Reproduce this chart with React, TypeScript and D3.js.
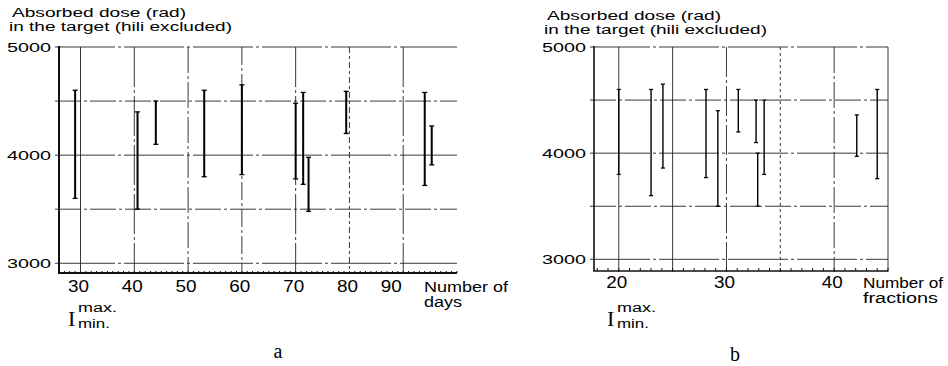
import React, { useEffect, useRef } from 'react';
import * as d3 from 'd3';

// Panel a: dose range versus overall treatment time (days)
const dayPos = [29, 40.6, 44, 53, 60, 70, 71.4, 72.4, 79.4, 94, 95.3];
const dayMax = [4600, 4400, 4500, 4600, 4650, 4480, 4580, 3980, 4590, 4580, 4270];
const dayMin = [3600, 3500, 4100, 3800, 3820, 3780, 3730, 3480, 4200, 3720, 3910];
const dayTicks = [30, 40, 50, 60, 70, 80, 90];

// Panel b: dose range versus number of fractions
const fracPos = [20, 23, 24.1, 28.1, 29.2, 31.1, 32.75, 32.9, 33.5, 42.1, 44];
const fracMax = [4600, 4600, 4650, 4600, 4400, 4600, 4500, 4000, 4500, 4360, 4600];
const fracMin = [3800, 3600, 3860, 3770, 3500, 4200, 4100, 3500, 3800, 3970, 3760];
const fracTicks = [20, 30, 40];
const fracGrid = [20, 25, 30, 35, 40, 45];

const doseTicks = [3000, 4000, 5000];
const doseGrid = [3000, 3500, 4000, 4500, 5000];
const yTitle = ['Absorbed dose (rad)', 'in the target (hili excluded)'];

const DASH = '26 3 3 3';
const FONT = '"Liberation Sans", Arial, sans-serif';
const SERIF = '"Liberation Serif", "Times New Roman", serif';

interface PanelCfg {
  x0: number; x1: number; y0: number; y1: number;
  xDomain: [number, number]; yDomain: [number, number];
  pos: number[]; max: number[]; min: number[];
  ticks: number[]; vGrid: number[]; vDash: (string | null)[];
  axisW: number; barW: number; cap: number; minorH: number;
  titleX: number; titleY: number;
  xLab: string[]; xLabX: number; xLabW: number[]; tickY: number;
  legendX: number; letter: string; letterX: number; letterY: number;
  lastDx: number;
}

const panels: PanelCfg[] = [
  {
    x0: 59, x1: 457, y0: 47, y1: 273,
    xDomain: [26, 100], yDomain: [2910, 5000],
    pos: dayPos, max: dayMax, min: dayMin,
    ticks: dayTicks, vGrid: dayTicks,
    vDash: [null, '40 3 3 3', DASH, '18 3 3 3', '40 3 3 3', '6 3 3 3', '40 3 3 3'],
    axisW: 2, barW: 2, cap: 5, minorH: 2,
    titleX: 12, titleY: 17,
    xLab: ['Number of', 'days'], xLabX: 424, xLabW: [84, 38], tickY: 292,
    legendX: 68, letter: 'a', letterX: 278, letterY: 358, lastDx: -10,
  },
  {
    x0: 594, x1: 888, y0: 47, y1: 271,
    xDomain: [17.7, 45], yDomain: [2890, 5000],
    pos: fracPos, max: fracMax, min: fracMin,
    ticks: fracTicks, vGrid: fracGrid,
    vDash: [null, null, '30 3 3 3', '3 3', DASH, null],
    axisW: 1.6, barW: 1.4, cap: 4, minorH: 3,
    titleX: 547, titleY: 20,
    xLab: ['Number of', 'fractions'], xLabX: 863, xLabW: [80, 75], tickY: 288,
    legendX: 607, letter: 'b', letterX: 735, letterY: 361, lastDx: 0,
  },
];

export default function App() {
  const svgRef = useRef<SVGSVGElement>(null);

  useEffect(() => {
    if (!svgRef.current) return;
    const svg = d3.select(svgRef.current);
    svg.selectAll('*').remove();

    svg.append('rect').attr('width', 948).attr('height', 366).attr('fill', '#fff');

    panels.forEach((p) => {
      const g = svg.append('g');
      const x = d3.scaleLinear().domain(p.xDomain).range([p.x0, p.x1]);
      const y = d3.scaleLinear().domain(p.yDomain).range([p.y1, p.y0]);

      // horizontal grid
      g.selectAll('.hgrid')
        .data(doseGrid)
        .enter()
        .append('line')
        .attr('x1', p.x0 - 4)
        .attr('x2', p.x1)
        .attr('y1', (d) => y(d))
        .attr('y2', (d) => y(d))
        .attr('stroke', '#222')
        .attr('stroke-width', 0.9)
        .attr('stroke-dasharray', (d, i) => (i % 2 === 0 ? '60 3 3 3' : DASH));

      // vertical grid
      g.selectAll('.vgrid')
        .data(p.vGrid)
        .enter()
        .append('line')
        .attr('x1', (d) => x(d))
        .attr('x2', (d) => x(d))
        .attr('y1', y(5000))
        .attr('y2', p.y1 + 1)
        .attr('stroke', '#222')
        .attr('stroke-width', 0.9)
        .attr('stroke-dasharray', (d, i) => p.vDash[i]);

      // minor ticks on x axis
      const minor = d3.range(Math.ceil(p.xDomain[0]), Math.floor(p.xDomain[1]) + 1);
      g.selectAll('.minor')
        .data(minor)
        .enter()
        .append('line')
        .attr('x1', (d) => x(d))
        .attr('x2', (d) => x(d))
        .attr('y1', p.y1)
        .attr('y2', p.y1 - p.minorH)
        .attr('stroke', '#111')
        .attr('stroke-width', 1);

      // axes
      g.append('line')
        .attr('x1', p.x0).attr('x2', p.x0)
        .attr('y1', y(5000) - 1).attr('y2', p.y1)
        .attr('stroke', '#111').attr('stroke-width', p.axisW);
      g.append('line')
        .attr('x1', p.x0 - p.axisW / 2).attr('x2', p.x1)
        .attr('y1', p.y1).attr('y2', p.y1)
        .attr('stroke', '#111').attr('stroke-width', p.axisW);

      // dose tick labels
      g.selectAll('.ylab')
        .data(doseTicks)
        .enter()
        .append('text')
        .attr('x', p.x0 - 8)
        .attr('y', (d) => y(d) + 4.5)
        .attr('text-anchor', 'end')
        .attr('textLength', 44)
        .attr('lengthAdjust', 'spacingAndGlyphs')
        .style('font-family', FONT)
        .style('font-size', '12.5px')
        .text((d) => d);

      // x tick labels
      g.selectAll('.xlab')
        .data(p.ticks)
        .enter()
        .append('text')
        .attr('x', (d, i) => x(d) - 2 + (i === p.ticks.length - 1 ? p.lastDx : 0))
        .attr('y', p.tickY)
        .attr('text-anchor', 'middle')
        .attr('textLength', 21)
        .attr('lengthAdjust', 'spacingAndGlyphs')
        .style('font-family', FONT)
        .style('font-size', '16px')
        .text((d) => d);

      // x axis title
      p.xLab.forEach((s, i) => {
        g.append('text')
          .attr('x', p.xLabX)
          .attr('y', p.tickY + i * 15)
          .attr('textLength', p.xLabW[i])
          .attr('lengthAdjust', 'spacingAndGlyphs')
          .style('font-family', FONT)
          .style('font-size', '14px')
          .text(s);
      });

      // y axis title
      yTitle.forEach((s, i) => {
        g.append('text')
          .attr('x', p.titleX - (i === 1 ? 3 : 0))
          .attr('y', p.titleY + i * 14)
          .attr('textLength', i === 0 ? 174 : 223)
          .attr('lengthAdjust', 'spacingAndGlyphs')
          .style('font-family', FONT)
          .style('font-size', '12px')
          .text(s);
      });

      // range bars
      const bars = g.selectAll('.bar')
        .data(p.pos.map((v, i) => ({ x: v, hi: p.max[i], lo: p.min[i] })))
        .enter()
        .append('g');
      bars.append('line')
        .attr('x1', (d) => x(d.x)).attr('x2', (d) => x(d.x))
        .attr('y1', (d) => y(d.hi)).attr('y2', (d) => y(d.lo))
        .attr('stroke', '#000').attr('stroke-width', p.barW);
      ['hi', 'lo'].forEach((k) => {
        bars.append('line')
          .attr('x1', (d: any) => x(d.x) - p.cap / 2)
          .attr('x2', (d: any) => x(d.x) + p.cap / 2)
          .attr('y1', (d: any) => y(d[k]))
          .attr('y2', (d: any) => y(d[k]))
          .attr('stroke', '#000').attr('stroke-width', 1.3);
      });

      // legend symbol
      g.append('text')
        .attr('x', p.legendX)
        .attr('y', 326)
        .style('font-family', SERIF)
        .style('font-size', '22px')
        .text('I');
      g.append('text')
        .attr('x', p.legendX + 10)
        .attr('y', 312)
        .attr('textLength', 39)
        .attr('lengthAdjust', 'spacingAndGlyphs')
        .style('font-family', FONT)
        .style('font-size', '12px')
        .text('max.');
      g.append('text')
        .attr('x', p.legendX + 10)
        .attr('y', 328)
        .attr('textLength', 32)
        .attr('lengthAdjust', 'spacingAndGlyphs')
        .style('font-family', FONT)
        .style('font-size', '12px')
        .text('min.');

      // panel letter
      g.append('text')
        .attr('x', p.letterX)
        .attr('y', p.letterY)
        .attr('text-anchor', 'middle')
        .style('font-family', SERIF)
        .style('font-size', '20px')
        .text(p.letter);
    });
  }, []);

  return (
    <div style={{ position: 'absolute', left: 0, top: 0 }}>
      <svg ref={svgRef} width={948} height={366}></svg>
    </div>
  );
}
